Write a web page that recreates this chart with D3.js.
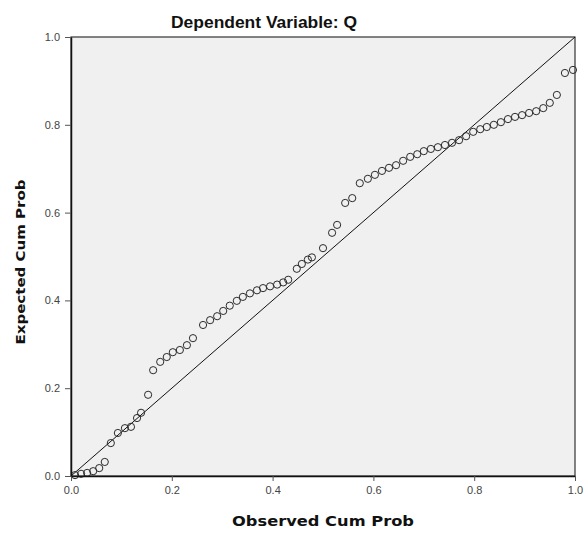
<!DOCTYPE html>
<html><head><meta charset="utf-8">
<script src="https://cdn.jsdelivr.net/npm/d3@7"></script>
<style>html,body{margin:0;padding:0;background:#fff;}svg{display:block;}</style>
</head><body>
<svg id="chart" width="588" height="537"></svg>
<script>
const observedCumProb = [0.008,0.020,0.032,0.044,0.056,0.067,0.079,0.093,0.107,0.119,0.131,0.139,0.153,0.163,0.177,0.190,0.202,0.216,0.230,0.242,0.262,0.276,0.290,0.302,0.315,0.329,0.341,0.355,0.369,0.381,0.395,0.409,0.421,0.431,0.448,0.458,0.470,0.478,0.500,0.518,0.528,0.544,0.558,0.573,0.589,0.603,0.617,0.631,0.645,0.659,0.673,0.687,0.700,0.714,0.728,0.742,0.756,0.770,0.784,0.798,0.812,0.825,0.839,0.853,0.867,0.881,0.895,0.909,0.923,0.937,0.950,0.964,0.980,0.996];
const expectedCumProb = [0.002,0.005,0.007,0.011,0.018,0.032,0.075,0.098,0.109,0.112,0.132,0.144,0.185,0.241,0.260,0.271,0.282,0.287,0.298,0.314,0.344,0.355,0.364,0.376,0.388,0.399,0.408,0.416,0.423,0.428,0.432,0.436,0.441,0.447,0.472,0.483,0.493,0.498,0.519,0.554,0.572,0.622,0.633,0.667,0.677,0.686,0.695,0.702,0.708,0.718,0.727,0.733,0.740,0.745,0.749,0.754,0.759,0.765,0.774,0.784,0.790,0.795,0.800,0.806,0.813,0.818,0.822,0.827,0.831,0.838,0.850,0.868,0.918,0.925];
const tickValues = [0,0.2,0.4,0.6,0.8,1.0];
const tickLabels = ["0.0","0.2","0.4","0.6","0.8","1.0"];
const titleText = "Dependent Variable: Q";
const xTitle = "Observed Cum Prob";
const yTitle = "Expected Cum Prob";

const svg = d3.select("#chart");
const m = {left:71, right:575, top:37, bottom:476};
const x = d3.scaleLinear().domain([0,1]).range([m.left, m.right]);
const y = d3.scaleLinear().domain([0,1]).range([m.bottom, m.top]);

svg.append("rect").attr("x",m.left).attr("y",m.top)
  .attr("width",m.right-m.left).attr("height",m.bottom-m.top)
  .attr("fill","#f0f0f0").attr("stroke","#333").attr("stroke-width",1.2);

svg.append("line").attr("x1",x(0)).attr("y1",y(0)).attr("x2",x(1)).attr("y2",y(1))
  .attr("stroke","#111").attr("stroke-width",1);

svg.append("g").selectAll("circle").data(observedCumProb).join("circle")
  .attr("cx",(d)=>x(d)).attr("cy",(d,i)=>y(expectedCumProb[i])).attr("r",3.6)
  .attr("fill","none").attr("stroke","#2a2a2a").attr("stroke-width",1);

const fmt = (d)=>tickLabels[tickValues.indexOf(d)];
const xAxis = svg.append("g").attr("transform",`translate(0,${m.bottom})`)
  .call(d3.axisBottom(x).tickValues(tickValues).tickFormat(fmt).tickSize(5).tickSizeOuter(0));
const yAxis = svg.append("g").attr("transform",`translate(${m.left},0)`)
  .call(d3.axisLeft(y).tickValues(tickValues).tickFormat(fmt).tickSize(6).tickSizeOuter(0));
[xAxis,yAxis].forEach(a=>{
  a.select(".domain").attr("stroke","#111").attr("stroke-width",1.5);
  a.selectAll(".tick line").attr("stroke","#555");
  a.selectAll("text").attr("font-family","Liberation Sans, Arial, sans-serif").attr("font-size",11).attr("fill","#444");
});
xAxis.selectAll("text").attr("dy","0.95em");
yAxis.selectAll("text").attr("dx","-2");

svg.append("text").attr("x",264).attr("y",28).attr("text-anchor","middle")
  .attr("font-family","Liberation Sans, Arial, sans-serif").attr("font-weight","bold").attr("font-size",16)
  .attr("textLength",186).attr("lengthAdjust","spacingAndGlyphs")
  .attr("fill","#111").text(titleText);
svg.append("text").attr("x",323).attr("y",526).attr("text-anchor","middle")
  .attr("font-family","DejaVu Sans, Verdana, sans-serif").attr("font-weight","bold").attr("font-size",14)
  .attr("textLength",182).attr("lengthAdjust","spacingAndGlyphs")
  .attr("fill","#111").text(xTitle);
svg.append("text").attr("transform","translate(25,262) rotate(-90)").attr("text-anchor","middle")
  .attr("font-family","DejaVu Sans, Verdana, sans-serif").attr("font-weight","bold").attr("font-size",13)
  .attr("textLength",165).attr("lengthAdjust","spacingAndGlyphs")
  .attr("fill","#111").text(yTitle);
</script>
</body></html>
